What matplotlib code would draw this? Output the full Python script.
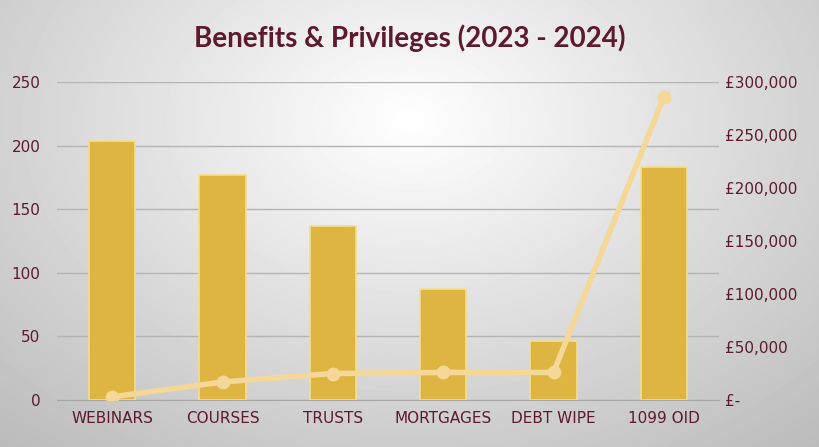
import matplotlib
matplotlib.use("Agg")
import matplotlib.pyplot as plt
import numpy as np

categories = ["WEBINARS", "COURSES", "TRUSTS", "MORTGAGES", "DEBT WIPE", "1099 OID"]
counts = [204, 177, 137, 87, 46, 183]
amounts = [3000, 17000, 25000, 26000, 26000, 286000]

maroon = "#5E1A2C"
fig = plt.figure(figsize=(8.19, 4.47), dpi=100)

# radial gradient background
bg = fig.add_axes([0, 0, 1, 1], zorder=-10)
yy, xx = np.mgrid[0:447, 0:819]
r = np.sqrt(((xx - 410) / 600) ** 2 + ((yy - 120) / 420) ** 2)
val = np.clip(1.0 - 0.26 * r, 0, 1)
bg.imshow(val, cmap="gray", vmin=0, vmax=1, aspect="auto")
bg.axis("off")

ax = fig.add_axes([57 / 819, 47 / 447, 662 / 819, 318 / 447])
ax.patch.set_alpha(0)
x = np.arange(len(categories))
ax.bar(x, counts, width=0.42, color="#DDB540", edgecolor="#F2DE94", linewidth=1.2, zorder=3)
ax.set_ylim(0, 250)
ax.set_yticks(range(0, 251, 50))
ax.set_xlim(-0.5, len(categories) - 0.5)
ax.set_xticks(x)
ax.set_xticklabels(categories)
ax.yaxis.grid(True, color="#B4B4B4", linewidth=1, zorder=0)
for s in ax.spines.values():
    s.set_visible(False)
ax.spines["bottom"].set_visible(True)
ax.spines["bottom"].set_color("#A6A6A6")
ax.tick_params(length=0, colors=maroon, labelsize=11)
ax.tick_params(axis="y", pad=12)
ax.tick_params(axis="x", pad=8)

ax2 = ax.twinx()
ax2.plot(x, amounts, color="#F5D797", linewidth=4, marker="o", markersize=9, zorder=5)
ax2.set_ylim(0, 300000)
ax2.set_yticks(range(0, 300001, 50000))
ax2.set_yticklabels(["£-"] + [f"£{v:,}" for v in range(50000, 300001, 50000)])
for s in ax2.spines.values():
    s.set_visible(False)
ax2.tick_params(length=0, colors=maroon, labelsize=11, pad=4)

fig.text(0.5, 1 - 38 / 447, "Benefits & Privileges (2023 - 2024)", ha="center", va="center",
         fontsize=20, fontweight="bold", color=maroon, family="Lato")

fig.savefig("out.png", dpi=100)
